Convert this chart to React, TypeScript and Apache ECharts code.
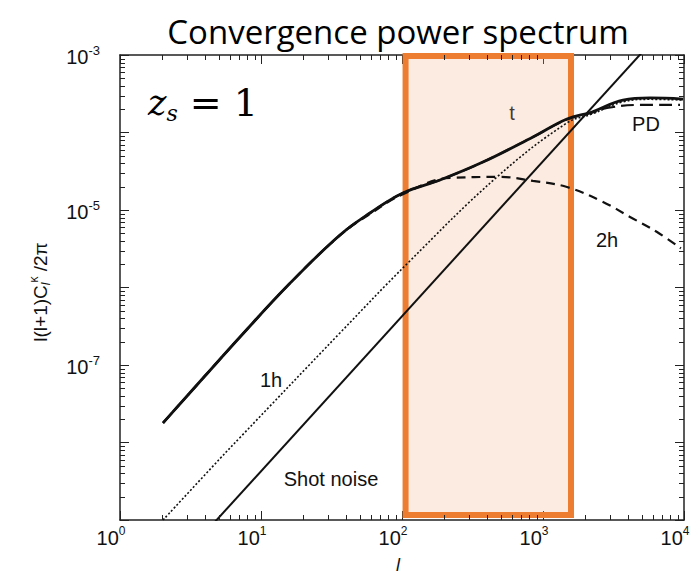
import React, { useEffect, useRef } from "react";
import * as echarts from "echarts";

// multipole l and l(l+1)C_l/2pi values
const ellTotal = [2.02, 4, 7.1, 16.1, 36.3, 59.3, 101.6, 186, 375, 849, 1479, 2228, 3690, 5740, 9840];
const totalVals = [1.79e-8, 7.2e-8, 2.3e-7, 1.14e-6, 4.75e-6, 9.14e-6, 1.66e-5, 2.44e-5, 4.16e-5, 8.75e-5, 1.49e-4, 1.84e-4, 2.62e-4, 2.79e-4, 2.7e-4];

const ellPD = [2.02, 4, 7.1, 16.1, 36.3, 59.3, 101.6, 186, 375, 849, 1479, 2228, 2844, 4875, 9370];
const pdVals = [1.79e-8, 7.2e-8, 2.3e-7, 1.14e-6, 4.75e-6, 9.14e-6, 1.66e-5, 2.44e-5, 4.16e-5, 8.75e-5, 1.47e-4, 1.8e-4, 2.07e-4, 2.27e-4, 2.27e-4];

const ell2h = [2.02, 4, 7.1, 16.1, 36.3, 59.3, 101.6, 219, 495, 849, 1479, 2665, 4140, 6440, 9500];
const twoHaloVals = [1.79e-8, 7.2e-8, 2.3e-7, 1.14e-6, 4.7e-6, 8.9e-6, 1.6e-5, 2.59e-5, 2.67e-5, 2.37e-5, 1.98e-5, 1.27e-5, 8.13e-6, 5.2e-6, 3.2e-6];

const ell1h = [2.02, 5.12, 7.1, 36.3, 110, 472, 1479, 2228, 3690, 5740, 9840];
const oneHaloVals = [1.0e-9, 6.2e-9, 1.16e-8, 2.59e-7, 2.07e-6, 2.67e-5, 1.33e-4, 1.73e-4, 2.48e-4, 2.68e-4, 2.62e-4];

const ellShot = [4.5, 6000];
const shotVals = [8.63e-10, 1.53e-3];

// highlighted l range and value range of the orange box
const bandEll = [106, 1580];
const bandVals = [9.7e-4, 1.16e-9];

const xMin = 1;
const xMax = 1e4;
const yMin = 1e-9;
const yMax = 1e-3;
const xDecades = [0, 1, 2, 3];
const yDecades = [-9, -8, -7, -6, -5, -4];
const minorMultipliers = [2, 3, 4, 5, 6, 7, 8, 9];
const yLabelExponents = [-3, -5, -7];

const pairs = (xs: number[], ys: number[]) => xs.map((x, i) => [x, ys[i]]);

export default function App() {
  const ref = useRef<HTMLDivElement>(null);

  useEffect(() => {
    if (!ref.current) return;
    const chart = echarts.init(ref.current, null, { renderer: "svg" });

    const minorX: number[] = [];
    const minorY: number[] = [];
    xDecades.forEach((k) => minorMultipliers.forEach((m) => minorX.push(m * Math.pow(10, k))));
    yDecades.forEach((k) => minorMultipliers.forEach((m) => minorY.push(m * Math.pow(10, k))));

    const sans = "Liberation Sans";
    const black = "#111";
    const tickColor = "#222";

    const baseAxis = {
      type: "log" as const,
      logBase: 10,
      splitLine: { show: false },
      axisLine: { show: true, lineStyle: { color: tickColor, width: 1.5 } },
      axisTick: { show: true, inside: true, length: 9, lineStyle: { color: tickColor, width: 1 } },
    };

    const expOf = (v: number) => Math.round(Math.log10(v));

    const lineSeries = (name: string, xs: number[], ys: number[], lineStyle: any, smooth: number | boolean) => ({
      name,
      type: "line",
      data: pairs(xs, ys),
      showSymbol: false,
      symbol: "none",
      smooth,
      lineStyle,
    });

    const textStyle = (text: string) => ({
      text,
      fontFamily: sans,
      fontSize: 20,
      fill: black,
      textAlign: "center",
      textVerticalAlign: "middle",
    });

    const graphicBase: any[] = [
      {
        type: "text",
        x: 398,
        y: 31,
        style: {
          text: "Convergence power spectrum",
          fontFamily: "Open Sans",
          fontSize: 33,
          fill: "#000",
          textAlign: "center",
          textVerticalAlign: "middle",
        },
      },
      {
        type: "text",
        x: 148,
        y: 103,
        style: {
          text: "{z|z}{s|s}{e| = 1}",
          textVerticalAlign: "middle",
          rich: {
            z: { fontFamily: "DejaVu Serif", fontStyle: "italic", fontSize: 35, fill: "#000", lineHeight: 42 },
            s: { fontFamily: "DejaVu Serif", fontStyle: "italic", fontSize: 22, fill: "#000", verticalAlign: "bottom", lineHeight: 32 },
            e: { fontFamily: "DejaVu Serif", fontSize: 38, fill: "#000", lineHeight: 42 },
          },
        },
      },
      {
        type: "text",
        x: 40,
        y: 292,
        rotation: Math.PI / 2,
        style: {
          text: "{a|l(l+1)C}{s|l}{p|κ}{a| /2π}",
          textAlign: "center",
          textVerticalAlign: "middle",
          rich: {
            a: { fontFamily: sans, fontSize: 19, fill: black, lineHeight: 24 },
            s: { fontFamily: sans, fontStyle: "italic", fontSize: 12, fill: black, verticalAlign: "bottom", lineHeight: 20 },
            p: { fontFamily: sans, fontSize: 12, fill: black, verticalAlign: "top", lineHeight: 12 },
          },
        },
      },
      {
        type: "text",
        x: 398,
        y: 556,
        style: { text: "l", fontFamily: sans, fontStyle: "italic", fontSize: 18, fill: black, textAlign: "center", textVerticalAlign: "top" },
      },
      { type: "text", x: 512, y: 113, style: textStyle("t") },
      { type: "text", x: 646, y: 124, style: textStyle("PD") },
      { type: "text", x: 607, y: 240, style: textStyle("2h") },
      { type: "text", x: 271, y: 380, style: textStyle("1h") },
      { type: "text", x: 331, y: 479, style: textStyle("Shot noise") },
    ];

    const option: any = {
      animation: false,
      backgroundColor: "#fff",
      textStyle: { fontFamily: sans },
      grid: { left: 120, right: 8, top: 55, bottom: 55, containLabel: false, outerBoundsMode: "none" },
      xAxis: [
        {
          ...baseAxis,
          min: xMin,
          max: xMax,
          interval: 1,
          position: "bottom",
          axisLabel: {
            margin: 5,
            hideOverlap: false,
            formatter: (v: number) => `{b|10}{s|${expOf(v)}}`,
            rich: {
              b: { fontSize: 20, fontFamily: sans, color: black, lineHeight: 23, verticalAlign: "bottom" },
              s: { fontSize: 12, fontFamily: sans, color: black, lineHeight: 12, verticalAlign: "top", padding: [0, 18, 0, 0] },
            },
          },
        },
        { ...baseAxis, min: xMin, max: xMax, interval: 1, position: "top", axisLabel: { show: false } },
      ],
      yAxis: [
        {
          ...baseAxis,
          min: yMin,
          max: yMax,
          interval: 1,
          position: "left",
          axisLabel: {
            margin: 20,
            formatter: (v: number) => {
              const e = expOf(v);
              return yLabelExponents.includes(e) ? `{b|10}{s|${e}}` : "";
            },
            rich: {
              b: { fontSize: 20, fontFamily: sans, color: black, lineHeight: 23, verticalAlign: "bottom" },
              s: { fontSize: 13, fontFamily: sans, color: black, lineHeight: 12, verticalAlign: "top" },
            },
          },
        },
        { ...baseAxis, min: yMin, max: yMax, interval: 1, position: "right", axisLabel: { show: false } },
      ],
      series: [
        lineSeries("Shot noise", ellShot, shotVals, { color: black, width: 2 }, false),
        lineSeries("1h", ell1h, oneHaloVals, { color: black, width: 1.6, type: [2, 2] }, 0.4),
        lineSeries("2h", ell2h, twoHaloVals, { color: black, width: 2.2, type: [9, 6] }, 0.4),
        lineSeries("PD", ellPD, pdVals, { color: black, width: 2.2, type: [13, 6] }, 0.4),
        lineSeries("t", ellTotal, totalVals, { color: black, width: 2.8 }, 0.4),
        {
          name: "band",
          type: "line",
          data: [],
          z: 10,
          markArea: {
            silent: true,
            itemStyle: { color: "rgba(244,177,131,0.25)", borderColor: "#ED7D31", borderWidth: 6 },
            data: [[{ coord: [bandEll[0], bandVals[0]] }, { coord: [bandEll[1], bandVals[1]] }]],
          },
        },
      ],
      graphic: graphicBase,
    };

    chart.setOption(option);

    // minor log ticks, placed through the chart's own axis scales
    const toPx = (v: number[]) => {
      const px = chart.convertToPixel({ xAxisIndex: 0, yAxisIndex: 0 } as any, v) as any;
      return [Math.round(Number(px[0])), Math.round(Number(px[1]))];
    };
    const tickEls: any[] = [];
    const fill = { fill: tickColor };
    const len = 5;
    minorX.forEach((v) => {
      const b = toPx([v, yMin]);
      const t = toPx([v, yMax]);
      tickEls.push({ type: "rect", silent: true, z: 100, shape: { x: b[0], y: b[1] - len, width: 1, height: len }, style: fill });
      tickEls.push({ type: "rect", silent: true, z: 100, shape: { x: t[0], y: t[1], width: 1, height: len }, style: fill });
    });
    minorY.forEach((v) => {
      const l = toPx([xMin, v]);
      const r = toPx([xMax, v]);
      tickEls.push({ type: "rect", silent: true, z: 100, shape: { x: l[0], y: l[1], width: len, height: 1 }, style: fill });
      tickEls.push({ type: "rect", silent: true, z: 100, shape: { x: r[0] - len, y: r[1], width: len, height: 1 }, style: fill });
    });
    chart.setOption({ graphic: { elements: [...graphicBase, ...tickEls] } });

    return () => chart.dispose();
  }, []);

  return <div ref={ref} style={{ position: "fixed", left: 0, top: 0, width: 692, height: 575 }} />;
}
